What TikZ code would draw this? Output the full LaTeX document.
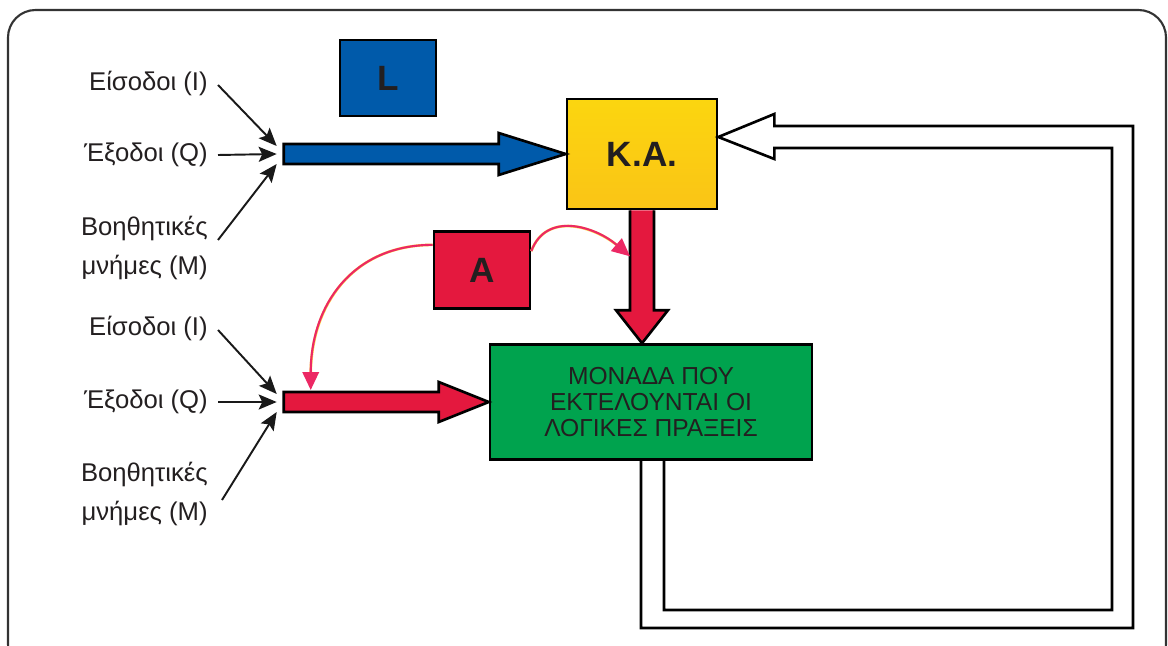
\documentclass[tikz,border=0pt]{standalone}
\usepackage{fontspec}
\setmainfont{Liberation Sans}
\usetikzlibrary{calc, arrows.meta}
\definecolor{plcBlue}{RGB}{0,90,170}
\definecolor{plcRed}{RGB}{228,24,62}
\definecolor{plcYellow}{RGB}{250,196,22}
\definecolor{plcGreen}{RGB}{0,163,78}
\definecolor{plcPink}{RGB}{236,40,100}
\definecolor{plcGlow}{RGB}{252,214,70}
\definecolor{textColor}{RGB}{35,31,32}
\colorlet{frameColor}{black!80}
\tikzstyle{block}=[rectangle, draw=black, line width=1.5pt, inner sep=0pt,
font=\fontsize{20}{24}\selectfont\bfseries, text=textColor]
\tikzstyle{caption}=[anchor=east, align=right, inner sep=0pt,
font=\fontsize{14.6}{22.7}\selectfont, text=textColor]
\tikzstyle{fatArrow}=[draw=black, line width=1.5pt, line join=miter]
\tikzstyle{pointer}=[-{Stealth[length=3.6mm, width=3mm, inset=0.7mm]}, line width=1.1pt, draw=black!90]
\tikzstyle{glow}=[draw=plcGlow, line width=1.5pt, shorten >=3mm]
\tikzstyle{memArrow}=[draw=plcPink, line width=1.2pt,
-{Triangle[length=3.6mm, width=3.3mm, fill=plcPink]}]
\tikzstyle{feedback}=[draw=black, line width=1.5pt, line join=miter]

\begin{document}
\begin{tikzpicture}[x=0.02cm, y=-0.02cm]
  \useasboundingbox (0,0) rectangle (1168,645);
  \fill[white] (0,0) rectangle (1168,645);
  \draw[frameColor, line width=1.2pt, rounded corners=0.55cm] (8,10) rectangle (1166,672);

  % blocks
  \node (L) [block, fill=plcBlue, minimum width=1.92cm, minimum height=1.52cm] at (388,78) {L};
  \node (ka) [block, top color=plcYellow!70!yellow, bottom color=plcYellow,
    minimum width=3cm, minimum height=2.2cm] at (642,154) {Κ.Α.};
  \node (A) [block, fill=plcRed, minimum width=1.92cm, minimum height=1.54cm] at (482,270) {A};
  \node (lu) [block, fill=plcGreen, minimum width=6.44cm, minimum height=2.3cm,
    font=\fontsize{14}{14.9}\selectfont, align=center] at (651,402)
    {ΜΟΝΑΔΑ ΠΟΥ\\ΕΚΤΕΛΟΥΝΤΑΙ ΟΙ\\ΛΟΓΙΚΕΣ ΠΡΑΞΕΙΣ};

  % operand labels
  \node (in1) [caption] at (208,83) {Είσοδοι (I)};
  \node (out1) [caption] at (208,155) {Έξοδοι (Q)};
  \node (mem1) [caption] at (208,248) {Βοηθητικές\\μνήμες (M)};
  \node (in2) [caption] at (208,328) {Είσοδοι (I)};
  \node (out2) [caption] at (208,402) {Έξοδοι (Q)};
  \node (mem2) [caption] at (208,494) {Βοηθητικές\\μνήμες (M)};

  \coordinate (inL) at ($(ka.west)+(-282,0)$);
  \coordinate (inA) at ($(lu.west)+(-205,0)$);
  \coordinate (kaDrop) at (ka.south |- lu.north);
  \coordinate (dropA) at ($(inA)+(27,-12)$);
  \coordinate (dropKA) at ($(ka.south)+(-12,46)$);

  \draw[pointer] ($(in1.east)+(10,2)$) -- ($(inL)+(-7,-8)$);
  \draw[pointer] ($(out1.east)+(10,0)$) -- ($(inL)+(-7,0)$);
  \draw[pointer] ($(mem1.east)+(10,-8)$) -- ($(inL)+(-7,10)$);
  \draw[pointer] ($(in2.east)+(10,2)$) -- ($(inA)+(-7,-8)$);
  \draw[pointer] ($(out2.east)+(10,0)$) -- ($(inA)+(-7,0)$);
  \draw[pointer] ($(mem2.east)+(14,6)$) -- ($(inA)+(-7,10)$);

  % wide arrows
  \filldraw[fatArrow, fill=plcBlue] ($(inL)+(0,-10)$) -- ($(ka.west)+(-67,-10)$)
    -- ($(ka.west)+(-67,-21)$) -- (ka.west) -- ($(ka.west)+(-67,21)$)
    -- ($(ka.west)+(-67,10)$) -- ($(inL)+(0,10)$) -- cycle;
  \filldraw[fatArrow, fill=plcRed] ($(inA)+(0,-10)$) -- ($(lu.west)+(-50,-10)$)
    -- ($(lu.west)+(-50,-20)$) -- (lu.west) -- ($(lu.west)+(-50,20)$)
    -- ($(lu.west)+(-50,10)$) -- ($(inA)+(0,10)$) -- cycle;
  \filldraw[fatArrow, fill=plcRed] ($(ka.south)+(-12,0)$) -- ($(kaDrop)+(-12,-33)$)
    -- ($(kaDrop)+(-26,-33)$) -- (kaDrop) -- ($(kaDrop)+(26,-33)$)
    -- ($(kaDrop)+(12,-33)$) -- ($(ka.south)+(12,0)$);

  % accumulator curves
  \draw[glow] (A.153) .. controls +(-80,0) and +(0,-85) .. (dropA);
  \draw[memArrow] (A.153) .. controls +(-80,0) and +(0,-85) .. (dropA);
  \draw[glow] (A.21) .. controls +(15,-40) and +(-35,-30) .. (dropKA);
  \draw[memArrow] (A.21) .. controls +(15,-40) and +(-35,-30) .. (dropKA);

  % result fed back
  \coordinate (fbTip) at ($(ka.east)+(0,-17)$);
  \draw[feedback] ($(lu.south)+(-10,0)$) |- (1133,628) |- ($(fbTip)+(56,-11)$)
    -- ++(0,-12) -- (fbTip) -- ($(fbTip)+(56,22)$) -- ++(0,-11)
    -| (1112,610) -| ($(lu.south)+(13,0)$);
\end{tikzpicture}
\end{document}
